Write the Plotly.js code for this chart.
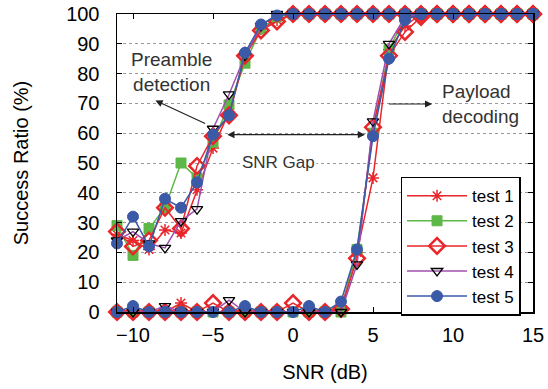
<!DOCTYPE html>
<html>
<head>
<meta charset="utf-8">
<script src="https://cdn.plot.ly/plotly-3.0.1.min.js"></script>
<style>html,body{margin:0;padding:0;background:#fff}#chart{width:548px;height:389px}</style>
</head>
<body>
<div id="chart"></div>
<script>
// SNR values (dB)
const snr = [-11,-10,-9,-8,-7,-6,-5,-4,-3,-2,-1,0,1,2,3,4,5,6,7,8,9,10,11,12,13,14,15];
const seriesNames = ["test 1","test 2","test 3","test 4","test 5"];

// Preamble detection success ratio (%)
const pre1 = [26,24,21,27.5,26.5,41,55,67,86,95,98,100,100,100,100,100,100,100,100,100,100,100,100,100,100,100,100];
const pre2 = [29,19,28,35,50,45,57,69.5,83.5,95,99,100,100,100,100,100,100,100,100,100,100,100,100,100,100,100,100];
const pre3 = [27,22,24,35,28,49,59,66,86,94.5,97.5,100,100,100,100,100,100,100,100,100,100,100,100,100,100,100,100];
const pre4 = [24,27,23,21.5,30.5,34.5,61.5,73,86,96,100,100,100,100,100,100,100,100,100,100,100,100,100,100,100,100,100];
const pre5 = [23,32,22,38,35,43.5,59.5,66,87,96.5,99.5,100,100,100,100,100,100,100,100,100,100,100,100,100,100,100,100];

// Payload decoding success ratio (%)
const pay1 = [0,0,0,0,3,0,0,0,0,0,0,0,0,0,1,20,45,88,96,100,100,100,100,100,100,100,100];
const pay2 = [0,0,0,0,0,0,0,0,0,0,0,0,0,0,0,21,60,88,99,100,100,100,100,100,100,100,100];
const pay3 = [0,0,0,0,0,0,3,0,0,0,0,3,0,0,1,18,62,86,94,99,100,100,100,100,100,100,100];
const pay4 = [0,0,0,2,0,0,0,4,0,0,0,0,0,0,0,16,64,90,99,100,100,100,100,100,100,100,100];
const pay5 = [0,2,0,0,0,0,0,0,2,0,0,0,2,0,3.5,21,59,85,98,100,100,100,100,100,100,100,100];

const preAll = [pre1,pre2,pre3,pre4,pre5];
const payAll = [pay1,pay2,pay3,pay4,pay5];

const styles = [
  {line:'#e8262b', mcol:'#e8262b', sym:'asterisk-open', size:10, lw:1.5},
  {line:'#5db847', mcol:'#5db847', sym:'square', size:10, lw:1},
  {line:'#e8262b', mcol:'#e8262b', sym:'diamond-open', size:12, lw:2.5},
  {line:'#a04fb0', mcol:'#000000', sym:'triangle-down-open', size:10, lw:1.3},
  {line:'#3a5aa8', mcol:'#3a5aa8', sym:'circle', size:11, lw:1}
];

const traces = seriesNames.map((name,i) => {
  const s = styles[i];
  const xs = snr.concat([null]).concat(snr);
  const ys = preAll[i].concat([null]).concat(payAll[i]);
  return {
    type:'scatter', mode:'lines+markers', name:name,
    x:xs, y:ys, connectgaps:false, cliponaxis:false,
    line:{color:s.line, width:1.5},
    marker:{symbol:s.sym, size:s.size, color:s.mcol, line:{color:s.mcol, width:s.lw}}
  };
});

const font = {family:'"Liberation Sans", Arial, sans-serif', size:20, color:'#000'};
const annFont = {family:'"Liberation Sans", Arial, sans-serif', size:19, color:'#333'};

const layout = {
  width:548, height:389,
  margin:{l:117, r:15, t:14, b:77},
  paper_bgcolor:'#fff', plot_bgcolor:'#fff',
  font:font,
  showlegend:true,
  legend:{x:0.97, y:0.221, xanchor:'right', yanchor:'middle', bgcolor:'#fff',
          bordercolor:'#000', borderwidth:1.5, font:{family:font.family, size:17, color:'#000'},
          tracegroupgap:0, itemwidth:60},
  xaxis:{range:[-11,15], tick0:-10, dtick:5, ticks:'inside', ticklen:5, tickcolor:'#000',
         showline:true, linecolor:'#000', linewidth:1.5, mirror:'ticks', showgrid:false,
         zeroline:false, tickfont:font, ticklabelstandoff:4,
         title:{text:'SNR (dB)', font:font, standoff:20}},
  yaxis:{range:[0,100], dtick:10, ticks:'inside', ticklen:5, tickcolor:'#000',
         showline:true, linecolor:'#000', linewidth:1.5, mirror:'ticks',
         showgrid:true, gridcolor:'#999', griddash:'dot', gridwidth:1,
         zeroline:false, tickfont:font, ticklabelstandoff:12,
         title:{text:'Success Ratio (%)', font:font, standoff:32}},
  annotations:[
    {x:-7.6, y:80.5, xref:'x', yref:'y', text:'Preamble<br>detection', showarrow:false, font:annFont},
    {x:-8.6, y:71, xref:'x', yref:'y', ax:-5.4, ay:63, axref:'x', ayref:'y', text:'',
     showarrow:true, arrowhead:2, arrowsize:1.2, arrowwidth:1.2, arrowcolor:'#222'},
    {x:4.5, y:59.5, xref:'x', yref:'y', ax:-4.2, ay:59.5, axref:'x', ayref:'y', text:'',
     showarrow:true, arrowhead:2, arrowside:'end+start', arrowsize:1.2, arrowwidth:1.2, arrowcolor:'#222'},
    {x:-0.9, y:50.3, xref:'x', yref:'y', text:'SNR Gap', showarrow:false, bgcolor:'#fff',
     font:{family:annFont.family, size:17, color:'#333'}},
    {x:8.7, y:69.8, xref:'x', yref:'y', ax:5.9, ay:69.8, axref:'x', ayref:'y', text:'',
     showarrow:true, arrowhead:2, arrowsize:1.2, arrowwidth:1.2, arrowcolor:'#222'},
    {x:11.7, y:69.8, xref:'x', yref:'y', text:'Payload<br>decoding', showarrow:false, align:'left', font:annFont}
  ]
};

Plotly.newPlot('chart', traces, layout, {displayModeBar:false, staticPlot:true});
</script>
</body>
</html>
